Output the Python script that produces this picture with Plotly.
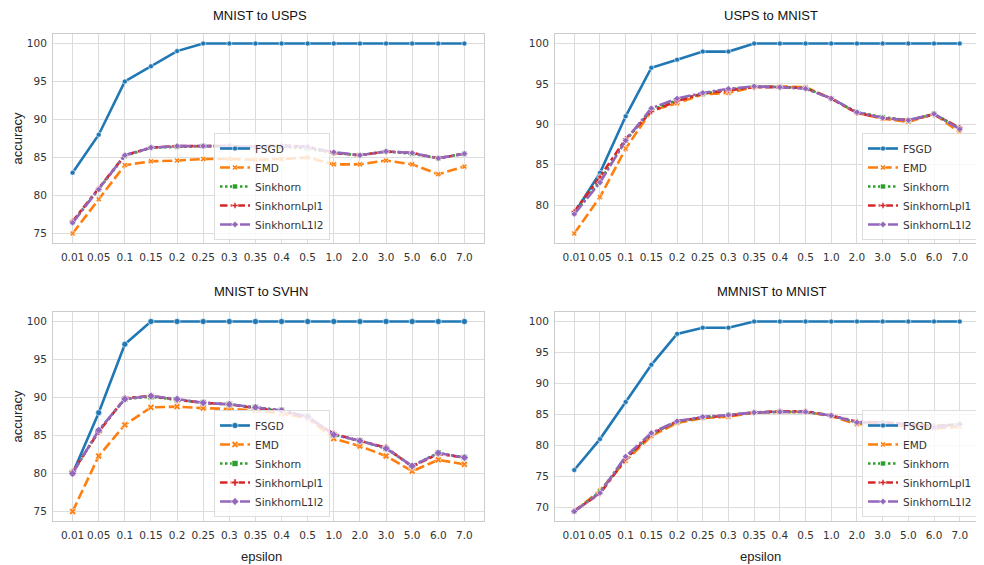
import plotly.graph_objects as go

epsilon = ["0.01", "0.05", "0.1", "0.15", "0.2", "0.25", "0.3", "0.35",
           "0.4", "0.5", "1.0", "2.0", "3.0", "5.0", "6.0", "7.0"]

methods = ["FSGD", "EMD", "Sinkhorn", "SinkhornLpl1", "SinkhornL1l2"]

# MNIST to USPS
mu_fsgd = [83, 88, 95, 97, 99, 100, 100, 100, 100, 100, 100, 100, 100, 100, 100, 100]
mu_emd = [75.0, 79.5, 84.0, 84.5, 84.6, 84.8, 84.8, 84.7, 84.8, 85.0, 84.1, 84.1, 84.6, 84.1, 82.8, 83.8]
mu_sink = [76.5, 80.8, 85.2, 86.3, 86.4, 86.5, 86.5, 86.3, 86.4, 86.2, 85.6, 85.3, 85.8, 85.5, 84.9, 85.5]
mu_lpl1 = [76.6, 80.9, 85.3, 86.3, 86.5, 86.5, 86.5, 86.4, 86.6, 86.4, 85.6, 85.3, 85.8, 85.6, 84.9, 85.5]
mu_l1l2 = [76.4, 80.8, 85.3, 86.3, 86.5, 86.5, 86.5, 86.4, 86.5, 86.4, 85.7, 85.3, 85.8, 85.6, 84.9, 85.5]

# USPS to MNIST
um_fsgd = [79, 84, 91, 97, 98, 99, 99, 100, 100, 100, 100, 100, 100, 100, 100, 100]
um_emd = [76.5, 81.0, 87.0, 91.7, 92.6, 93.7, 93.9, 94.6, 94.7, 94.6, 93.2, 91.4, 90.7, 90.3, 91.3, 89.0]
um_sink = [79.0, 83.0, 88.0, 91.8, 93.0, 93.8, 94.3, 94.7, 94.6, 94.5, 93.2, 91.5, 90.9, 90.5, 91.3, 89.5]
um_lpl1 = [79.2, 83.5, 88.2, 91.6, 92.9, 93.8, 94.2, 94.6, 94.6, 94.5, 93.2, 91.4, 90.8, 90.5, 91.2, 89.6]
um_l1l2 = [78.9, 82.8, 88.0, 92.0, 93.2, 93.9, 94.4, 94.7, 94.6, 94.4, 93.2, 91.5, 90.8, 90.5, 91.3, 89.4]

# MNIST to SVHN
ms_fsgd = [80, 88, 97, 100, 100, 100, 100, 100, 100, 100, 100, 100, 100, 100, 100, 100]
ms_emd = [75.0, 82.3, 86.4, 88.7, 88.8, 88.6, 88.5, 88.3, 87.9, 87.3, 84.6, 83.6, 82.3, 80.3, 81.8, 81.2]
ms_sink = [80.1, 85.6, 89.8, 90.1, 89.7, 89.3, 89.1, 88.7, 88.3, 87.5, 85.1, 84.3, 83.3, 81.0, 82.7, 82.1]
ms_lpl1 = [80.2, 85.5, 89.9, 90.2, 89.7, 89.3, 89.1, 88.6, 88.2, 87.4, 85.2, 84.3, 83.4, 80.9, 82.6, 82.1]
ms_l1l2 = [80.0, 85.7, 89.8, 90.2, 89.8, 89.3, 89.1, 88.7, 88.3, 87.5, 85.1, 84.3, 83.3, 81.0, 82.7, 82.1]

# MMNIST to MNIST
mm_fsgd = [76, 81, 87, 93, 98, 99, 99, 100, 100, 100, 100, 100, 100, 100, 100, 100]
mm_emd = [69.3, 72.7, 77.5, 81.5, 83.6, 84.4, 84.6, 85.3, 85.4, 85.4, 84.7, 83.4, 83.4, 83.1, 82.7, 83.0]
mm_sink = [69.3, 72.5, 78.0, 81.8, 83.8, 84.5, 84.9, 85.3, 85.4, 85.4, 84.8, 83.7, 83.7, 83.4, 83.1, 83.4]
mm_lpl1 = [69.4, 72.2, 77.8, 81.8, 83.9, 84.5, 84.8, 85.3, 85.5, 85.5, 84.8, 83.8, 83.7, 83.4, 83.1, 83.4]
mm_l1l2 = [69.3, 72.3, 78.2, 82.0, 83.9, 84.6, 84.9, 85.3, 85.4, 85.4, 84.8, 83.7, 83.7, 83.3, 82.9, 83.4]

panels = [
    ("MNIST to USPS", [mu_fsgd, mu_emd, mu_sink, mu_lpl1, mu_l1l2], [75, 80, 85, 90, 95, 100]),
    ("USPS to MNIST", [um_fsgd, um_emd, um_sink, um_lpl1, um_l1l2], [80, 85, 90, 95, 100]),
    ("MNIST to SVHN", [ms_fsgd, ms_emd, ms_sink, ms_lpl1, ms_l1l2], [75, 80, 85, 90, 95, 100]),
    ("MMNIST to MNIST", [mm_fsgd, mm_emd, mm_sink, mm_lpl1, mm_l1l2], [70, 75, 80, 85, 90, 95, 100]),
]

# page has an 8px body margin, so the figure is 976x557 placed at (8, 8)
OFF = 8
W, H = 984 - OFF, 565 - OFF


def px(x):
    return (x - OFF) / W


def py(y):
    return 1 - (y - OFF) / H


colors = ["#1f77b4", "#ff7f0e", "#2ca02c", "#d62728", "#9467bd"]
dashes = ["solid", "10px,3.75px", "2.5px,2.5px", "7.5px,3.1px,3.75px,3.1px", "12.5px,2.5px,2.5px,2.5px"]
symbols = ["circle", "x", "square", "cross", "diamond"]

# screen-pixel boxes of plot areas: (x0, x1, y0_top, y1_bottom)
boxes = [(53, 484, 34, 243), (555, 979, 34, 243), (53, 484, 312, 521), (555, 979, 312, 521)]
# legend anchor: (x, y_bottom, xanchor)
legend_pos = [(214, 240, "left"), (978, 240, "right"), (214, 517, "left"), (978, 517, "right")]
title_pos = [(260, 16), (771, 16), (261, 291), (772, 291)]
xlabel_y = 556
ylabel_x = 17

fig = go.Figure()
grid = "#dcdcdc"
tickfont = dict(family="DejaVu Sans", size=10.5, color="#333333")
labfont = dict(family="Liberation Sans", size=13, color="#222222")

for i, (title, series, yticks) in enumerate(panels):
    ax = "" if i == 0 else str(i + 1)
    leg = "legend" if i == 0 else "legend%d" % (i + 1)
    allv = [v for s in series for v in s]
    lo, hi = min(allv), max(allv)
    pad = (hi - lo) * 0.05
    msize = 6 if i == 2 else 5
    for k, name in enumerate(methods):
        fig.add_trace(go.Scatter(
            x=epsilon, y=series[k], name=name, mode="lines+markers",
            line=dict(color=colors[k], width=2.6, dash=dashes[k]),
            marker=dict(symbol=symbols[k], size=msize, color=colors[k],
                        line=dict(color="white", width=0.6)),
            xaxis="x" + ax, yaxis="y" + ax, legend=leg,
        ))
    x0, x1, y0, y1 = boxes[i]
    fig.layout["xaxis" + ax] = dict(
        domain=[px(x0), px(x1)], anchor="y" + ax, type="category",
        categoryorder="array", categoryarray=epsilon,
        range=[-0.75, 15.75], showgrid=True, gridcolor=grid, gridwidth=1,
        showline=True, linecolor="#cccccc", mirror=True, zeroline=False,
        ticks="", tickfont=tickfont, tickangle=0, ticklabelstandoff=4,
    )
    fig.layout["yaxis" + ax] = dict(
        domain=[py(y1), py(y0)], anchor="x" + ax,
        range=[lo - pad, hi + pad], tickvals=yticks,
        showgrid=True, gridcolor=grid, gridwidth=1,
        showline=True, linecolor="#cccccc", mirror=True, zeroline=False,
        ticks="", tickfont=tickfont, ticklabelstandoff=3,
    )
    lx, ly, xa = legend_pos[i]
    fig.layout[leg] = dict(
        x=px(lx), y=py(ly), xanchor=xa, yanchor="bottom",
        xref="paper", yref="paper",
        bgcolor="rgba(255,255,255,0.8)", bordercolor="#dddddd", borderwidth=1,
        font=dict(family="DejaVu Sans", size=10.5, color="#333333"),
        itemwidth=30, tracegroupgap=0,
    )
    tx, ty = title_pos[i]
    fig.add_annotation(x=px(tx), y=py(ty), xref="paper", yref="paper",
                       text=title, showarrow=False, xanchor="center", yanchor="middle",
                       font=dict(family="Liberation Sans", size=13, color="#111111"))
    if i >= 2:
        fig.add_annotation(x=px((x0 + x1) / 2 - 7), y=py(xlabel_y), xref="paper", yref="paper",
                           text="epsilon", showarrow=False, xanchor="center", yanchor="middle",
                           font=labfont)
    if i % 2 == 0:
        fig.add_annotation(x=px(ylabel_x), y=py((y0 + y1) / 2), xref="paper", yref="paper",
                           text="accuracy", showarrow=False, textangle=-90,
                           xanchor="center", yanchor="middle", font=labfont)

fig.update_layout(
    width=W, height=H, margin=dict(l=0, r=0, t=0, b=0),
    paper_bgcolor="white", plot_bgcolor="white", showlegend=True,
)

fig.write_html("out.html")
